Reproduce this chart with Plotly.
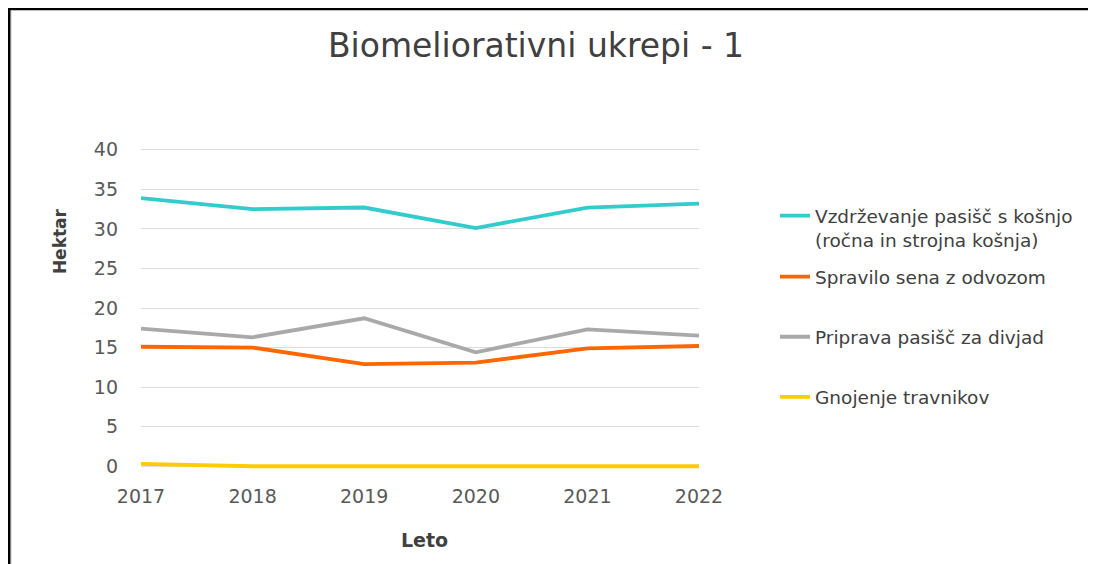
import plotly.graph_objects as go

# ---- data ----
years = [2017, 2018, 2019, 2020, 2021, 2022]
series_names = [
    "Vzdrževanje pasišč s košnjo<br>(ročna in strojna košnja)",
    "Spravilo sena z odvozom",
    "Priprava pasišč za divjad",
    "Gnojenje travnikov",
]
vzdrzevanje = [33.9, 32.5, 32.7, 30.1, 32.7, 33.2]
spravilo = [15.1, 15.0, 12.9, 13.1, 14.9, 15.2]
priprava = [17.4, 16.3, 18.7, 14.4, 17.3, 16.5]
gnojenje = [0.3, 0.0, 0.0, 0.0, 0.0, 0.0]
y_ticks = [0, 5, 10, 15, 20, 25, 30, 35, 40]

title_text = "Biomeliorativni ukrepi - 1"
y_title = "Hektar"
x_title = "Leto"

# ---- style / layout ----
OFF = 8  # page body margin offset in the browser
W, H = 1096 - OFF, 564 - OFF
colors = ["#33CCCC", "#FF6600", "#A9A9A9", "#FFCC00"]
Y_RANGE = [-0.35, 40.35]
ML, MT = 141 - OFF, 147 - OFF
PW, PH = 558, 321.6
MR = W - ML - PW
MB = H - MT - PH


def px_x(px):
    # reference-image pixel -> paper coordinate
    return (px - OFF - ML) / PW


def px_y(py):
    return (MT + PH - (py - OFF)) / PH


fig = go.Figure()
all_vals = [vzdrzevanje, spravilo, priprava, gnojenje]
legend_ids = ["legend", "legend2", "legend3", "legend4"]
for name, vals, col, lg in zip(series_names, all_vals, colors, legend_ids):
    fig.add_trace(go.Scatter(
        x=years, y=vals, name=name, mode="lines",
        line=dict(color=col, width=3.8),
        legend=lg,
    ))

legend_font = dict(family="DejaVu Sans", size=18.5, color="#404040")
legend_x = px_x(775)
legend_common = dict(x=legend_x, xanchor="left", font=legend_font,
                     bgcolor="rgba(0,0,0,0)", valign="top", yanchor="middle")

fig.update_layout(
    width=W, height=H,
    margin=dict(l=ML, r=MR, t=MT, b=MB, autoexpand=False),
    paper_bgcolor="white", plot_bgcolor="white",
    title=dict(text=title_text, x=(536 - OFF) / W, xanchor="center", xref="container",
               y=1 - (45 - OFF) / H, yanchor="middle", yref="container",
               font=dict(family="DejaVu Sans", size=33, color="#404040")),
    showlegend=True,
    legend=dict(y=px_y(228), **legend_common),
    legend2=dict(y=px_y(277), **legend_common),
    legend3=dict(y=px_y(337), **legend_common),
    legend4=dict(y=px_y(397), **legend_common),
    xaxis=dict(
        range=[years[0], years[-1]], tickvals=years, ticktext=[str(y) for y in years],
        showgrid=False, zeroline=False, showline=False, ticks="",
        tickfont=dict(family="DejaVu Sans", size=19, color="#595959"),
        ticklabelstandoff=14,
    ),
    yaxis=dict(
        range=Y_RANGE, tickvals=y_ticks,
        showgrid=True, gridcolor="#DCDCDC", gridwidth=1,
        zeroline=False, showline=False, ticks="",
        tickfont=dict(family="DejaVu Sans", size=19, color="#595959"),
        ticklabelstandoff=22,
    ),
    annotations=[
        dict(text="<b>" + y_title + "</b>", textangle=-90,
             x=px_x(60), y=px_y(241), xref="paper", yref="paper",
             xanchor="center", yanchor="middle", showarrow=False,
             font=dict(family="DejaVu Sans", size=17, color="#404040")),
        dict(text="<b>" + x_title + "</b>",
             x=px_x(424), y=px_y(540), xref="paper", yref="paper",
             xanchor="center", yanchor="middle", showarrow=False,
             font=dict(family="DejaVu Sans", size=19, color="#404040")),
    ],
    shapes=[
        dict(type="line", xref="paper", yref="paper",
             x0=px_x(7), x1=px_x(1100), y0=px_y(9), y1=px_y(9),
             line=dict(color="black", width=3)),
        dict(type="line", xref="paper", yref="paper",
             x0=px_x(9), x1=px_x(9), y0=px_y(8), y1=px_y(570),
             line=dict(color="black", width=3)),
        dict(type="line", xref="paper", yref="paper",
             x0=px_x(11.5), x1=px_x(11.5), y0=px_y(11), y1=px_y(570),
             line=dict(color="#E0E0E0", width=1)),
    ],
)

fig.write_html("out.html")
